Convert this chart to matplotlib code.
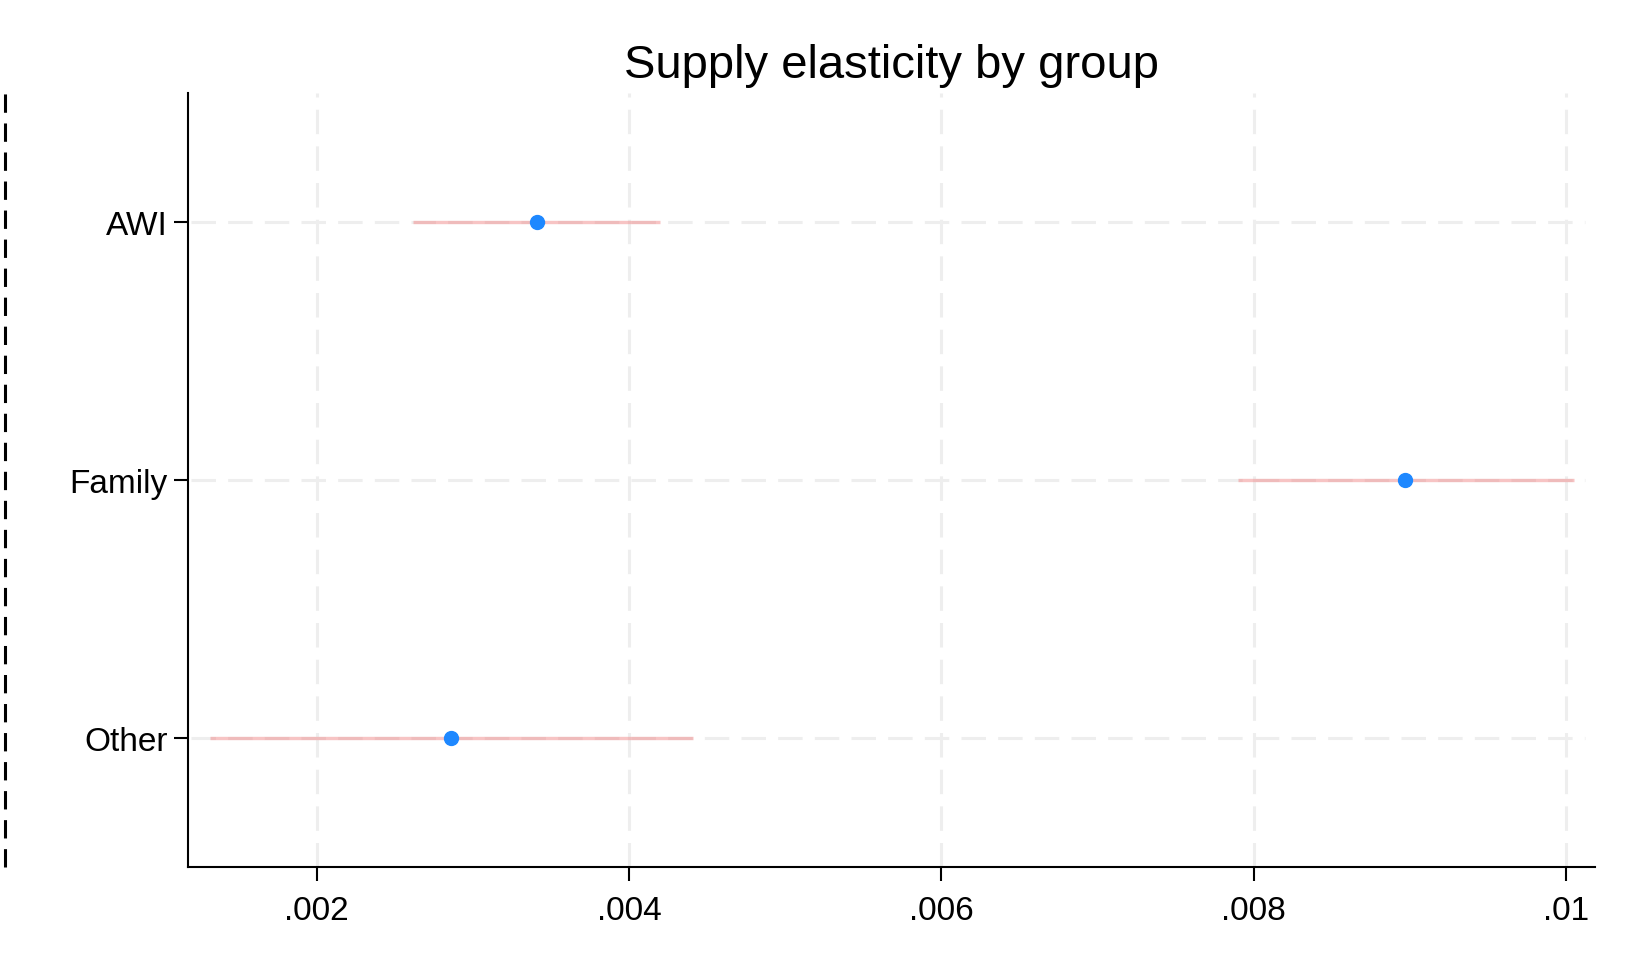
import matplotlib.pyplot as plt
from matplotlib.lines import Line2D

groups = ['AWI', 'Family', 'Other']
estimates = [0.00341, 0.00897, 0.00286]
ci_low = [0.00262, 0.00790, 0.00132]
ci_high = [0.00420, 0.01005, 0.00441]
xticks = [0.002, 0.004, 0.006, 0.008, 0.010]
xtick_labels = ['.002', '.004', '.006', '.008', '.01']

plt.rcParams['font.family'] = ['Liberation Sans', 'DejaVu Sans']

fig = plt.figure(figsize=(16.3, 9.78), dpi=100)
ax = fig.add_axes([188 / 1630, 1 - 868 / 978, (1595 - 188) / 1630, (868 - 94) / 978])

ypos = list(range(1, len(groups) + 1))

# grid first so the CI lines sit on top
for x in xticks:
    ax.axvline(x, color='#eeeeee', lw=2.2, ls=(0, (8, 4)), zorder=0)
for y in ypos:
    ax.axhline(y, xmin=0.002, xmax=0.993, color='#eeeeee', lw=2.2, ls=(0, (8, 4)), zorder=0)

ax.hlines(ypos, ci_low, ci_high, color='#f08a8a', alpha=0.5, lw=2.4, zorder=2)
ax.plot(estimates, ypos, 'o', color='#1e88ff', ms=10, zorder=3)

ax.set_xlim(0.001176, 0.010186)
ax.set_ylim(3.5, 0.5)
ax.set_xticks(xticks)
ax.set_xticklabels(xtick_labels)
ax.set_yticks(ypos)
ax.set_yticklabels(groups)
ax.tick_params(axis='both', labelsize=24, length=10, width=1.5)
ax.tick_params(axis='x', pad=10)
ax.tick_params(axis='y', pad=4.5)

for side in ['top', 'right']:
    ax.spines[side].set_visible(False)
for side in ['left', 'bottom']:
    ax.spines[side].set_linewidth(1.5)

fig.text((188 + 1595) / 2 / 1630, 1 - 78 / 978, 'Supply elasticity by group',
         ha='center', va='baseline', fontsize=34)

# dashed rule at the far left
fig.add_artist(Line2D([5 / 1630, 5 / 1630], [1 - 868 / 978, 1 - 94 / 978],
                      color='black', lw=2.2, ls=(0, (6, 3.5))))

fig.savefig('out.png', dpi=100)
